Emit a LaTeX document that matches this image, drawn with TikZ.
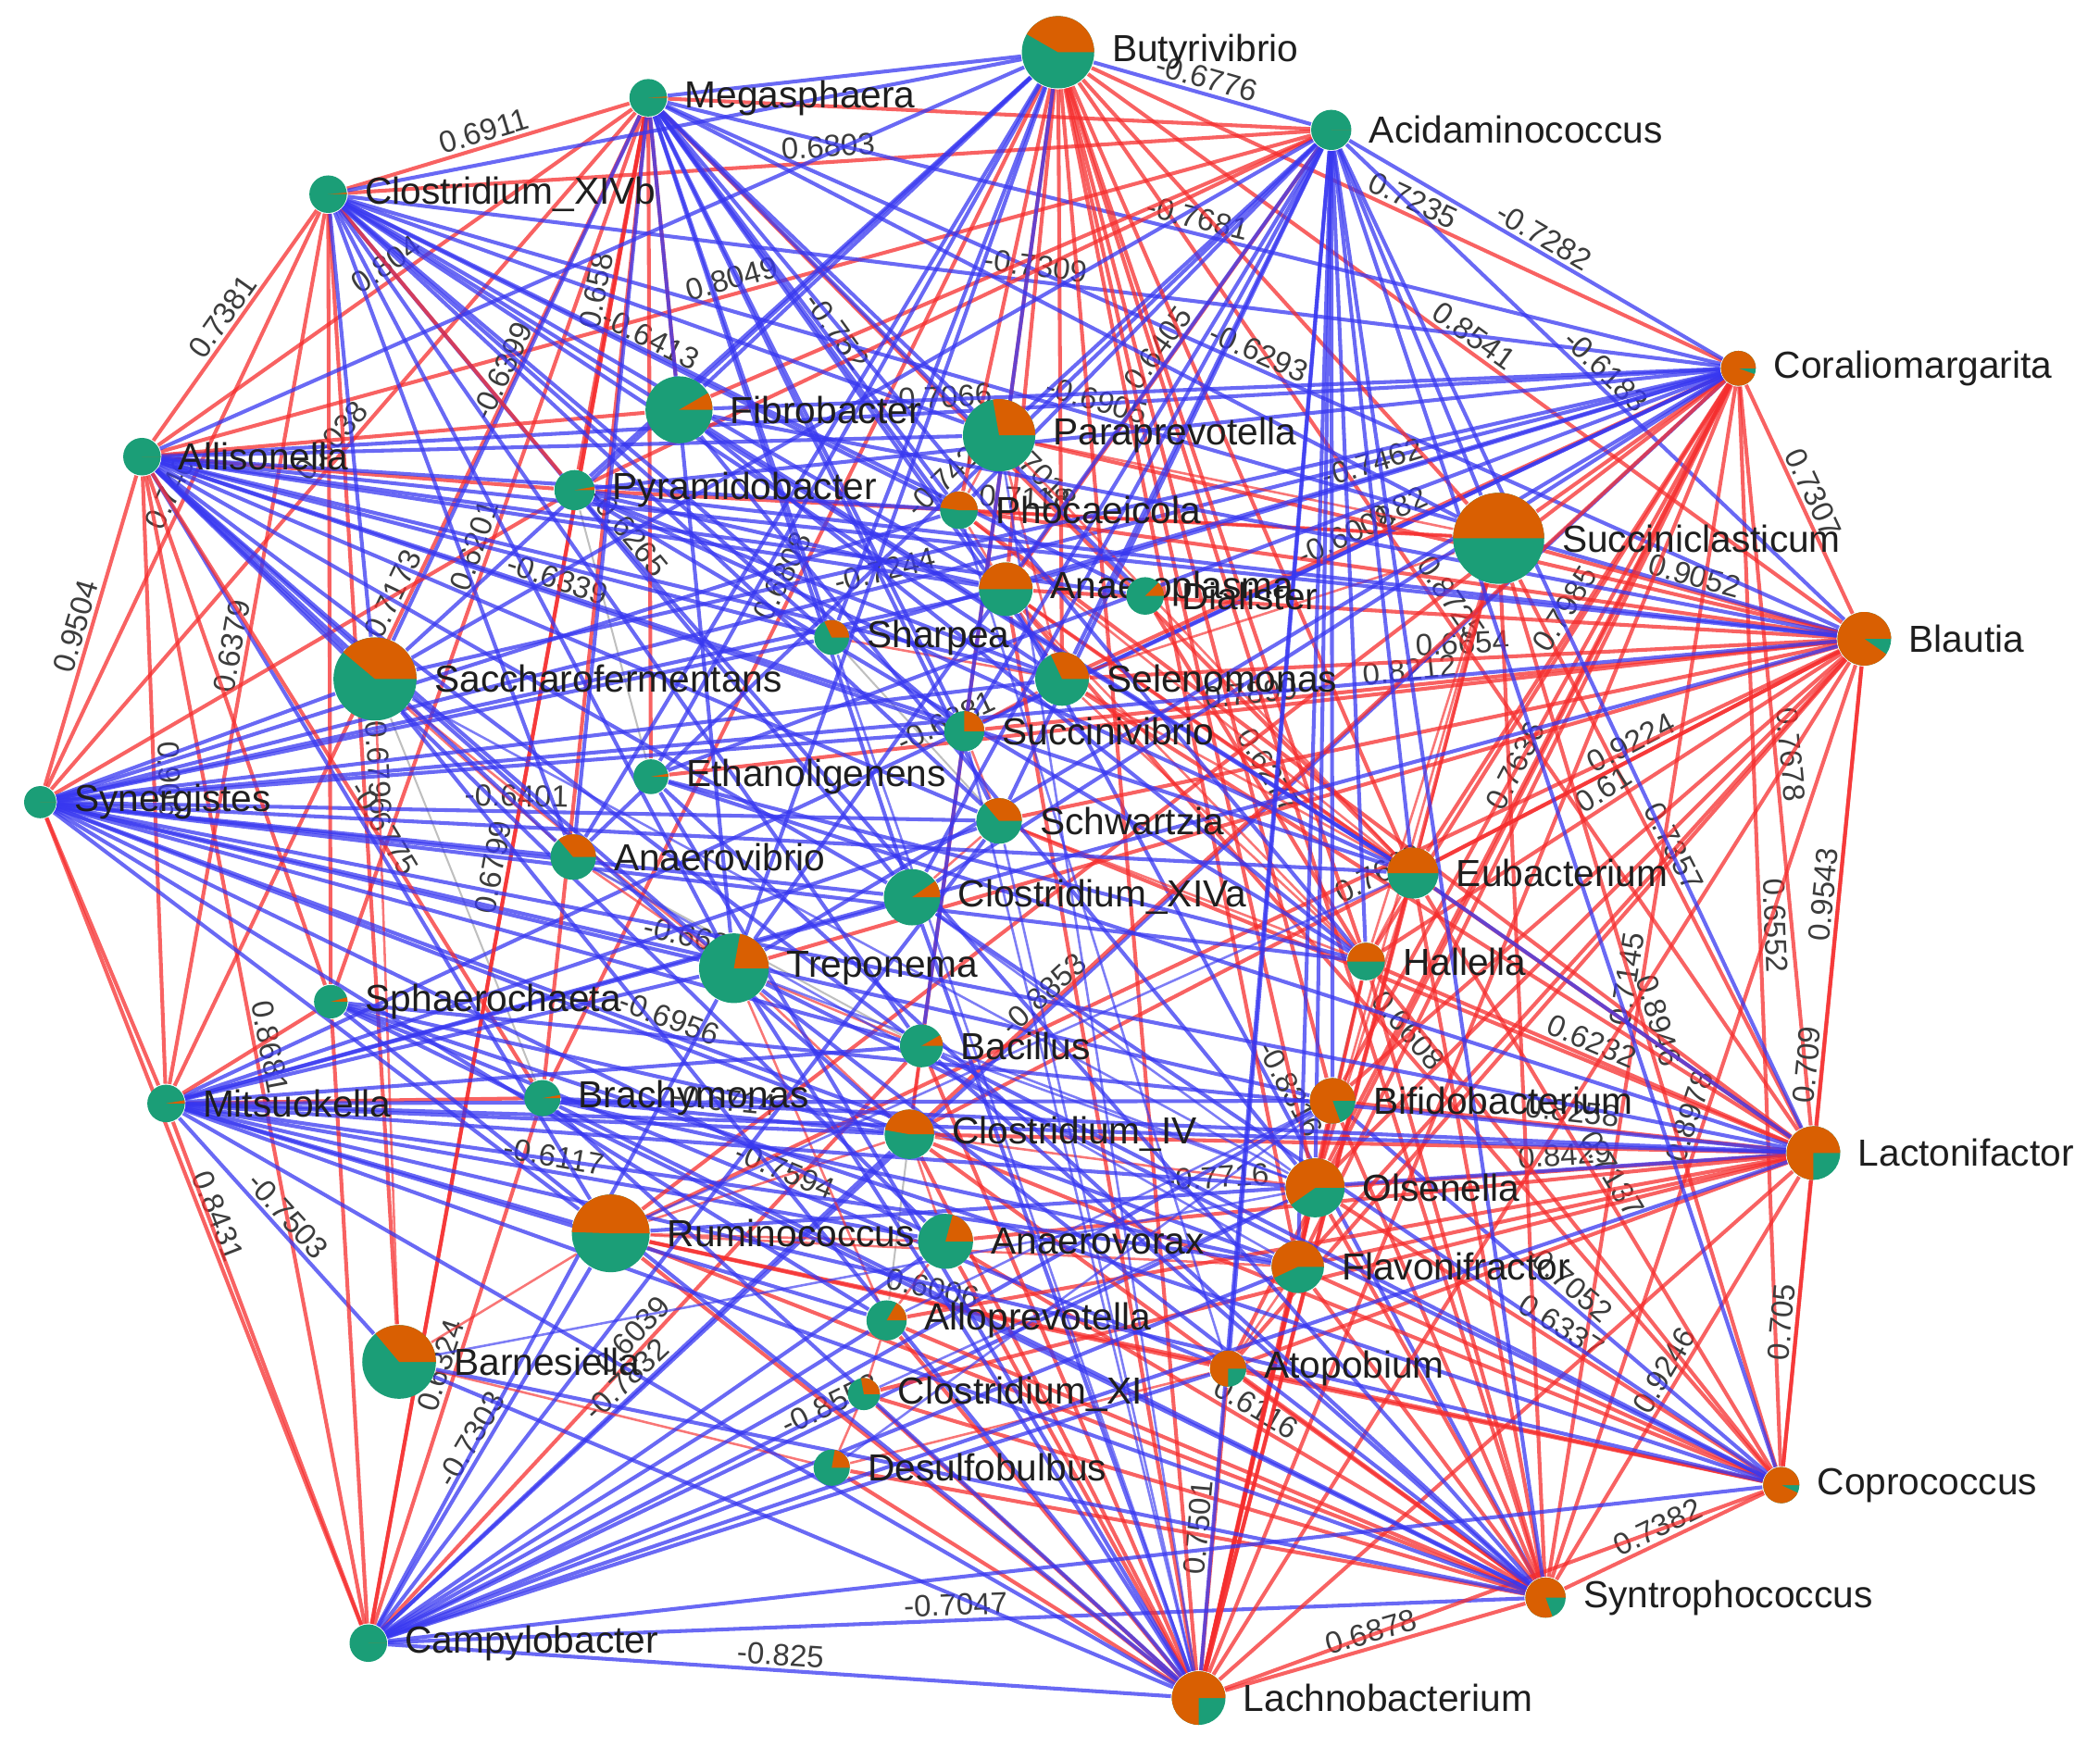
\documentclass[tikz,border=0pt]{standalone}
\usepackage{fontspec}
\setmainfont{Liberation Sans}
\pgfdeclarelayer{links}
\pgfsetlayers{links,main}
\definecolor{greenshare}{HTML}{1B9E77}
\definecolor{orangeshare}{HTML}{D95F02}
\definecolor{poscol}{RGB}{245,45,45}
\definecolor{negcol}{RGB}{55,55,240}
\definecolor{labgray}{HTML}{3C3C3C}
\definecolor{namecol}{HTML}{1E1E1E}

% one taxon: name, position, radius (mm), orange angle, label
\newcommand{\taxon}[5]{%
    \node[taxon, minimum size={2*#3mm}, label={[taxlabel]right:#5}] (#1) at (#2) {};
    \fill[orangeshare] (#1.center) -- ++(0:#3mm) arc[start angle=0, delta angle=#4, radius=#3mm] -- cycle;
}

\begin{document}
\begin{tikzpicture}[
        x=0.01cm, y=-0.01cm,
        % Styles
        taxon/.style={% For the pie nodes
            circle,
            fill=greenshare,
            inner sep=0pt,
            },
        taxlabel/.style={% For the taxon names
            font=\fontsize{8}{9}\selectfont,
            text=namecol,
            inner sep=0pt,
            label distance=1.2mm,
            },
        poslink/.style={% Positive correlation
            draw=poscol, draw opacity=0.75,
            line width=0.8pt,
            },
        poslinkthin/.style={% Positive, weaker
            draw=poscol, draw opacity=0.65,
            line width=0.5pt,
            },
        neglink/.style={% Negative correlation
            draw=negcol, draw opacity=0.75,
            line width=0.8pt,
            },
        neglinkthin/.style={% Negative, weaker
            draw=negcol, draw opacity=0.65,
            line width=0.5pt,
            },
        weaklink/.style={% Faint links
            draw=black!25,
            line width=0.4pt,
            },
        corr/.style={% Correlation values
            sloped, above,
            font=\fontsize{6.5}{7}\selectfont,
            text=labgray,
            inner sep=0.6pt,
            },
        ]

    \useasboundingbox (0,0) rectangle (1568,1314);

    % Nodes
        % Outer ring
        \taxon{but}{790,39}{2.7}{150}{Butyrivibrio}
        \taxon{meg}{484,73}{1.4}{4}{Megasphaera}
        \taxon{aci}{994,97}{1.5}{0}{Acidaminococcus}
        \taxon{cxivb}{245,145}{1.4}{5}{Clostridium\_XIVb}
        \taxon{cor}{1298,275}{1.3}{340}{Coraliomargarita}
        \taxon{all}{106,341}{1.4}{0}{Allisonella}
        \taxon{bla}{1392,477}{2.0}{325}{Blautia}
        \taxon{syn}{30,599}{1.2}{0}{Synergistes}
        \taxon{mit}{124,824}{1.4}{10}{Mitsuokella}
        \taxon{lac}{1354,861}{2.0}{270}{Lactonifactor}
        \taxon{cop}{1330,1109}{1.35}{335}{Coprococcus}
        \taxon{syt}{1154,1193}{1.5}{290}{Syntrophococcus}
        \taxon{cam}{275,1227}{1.4}{0}{Campylobacter}
        \taxon{lab}{895,1268}{2.0}{270}{Lachnobacterium}

        % Inner nodes
        \taxon{fib}{507,306}{2.5}{30}{Fibrobacter}
        \taxon{par}{746,325}{2.7}{100}{Paraprevotella}
        \taxon{pyr}{429,366}{1.5}{10}{Pyramidobacter}
        \taxon{pho}{716,381}{1.4}{172}{Phocaeicola}
        \taxon{suc}{1119,402}{3.4}{180}{Succiniclasticum}
        \taxon{ana}{751,440}{2.0}{180}{Anaeroplasma}
        \taxon{dia}{855,445}{1.4}{45}{Dialister}
        \taxon{sha}{621,476}{1.3}{115}{Sharpea}
        \taxon{sac}{280,507}{3.1}{140}{Saccharofermentans}
        \taxon{sel}{793,507}{2.0}{115}{Selenomonas}
        \taxon{svi}{720,546}{1.5}{90}{Succinivibrio}
        \taxon{eth}{486,580}{1.3}{10}{Ethanoligenens}
        \taxon{sch}{746,613}{1.7}{130}{Schwartzia}
        \taxon{avi}{428,640}{1.7}{130}{Anaerovibrio}
        \taxon{eub}{1055,652}{1.9}{180}{Eubacterium}
        \taxon{cxiva}{681,670}{2.1}{35}{Clostridium\_XIVa}
        \taxon{tre}{548,723}{2.6}{80}{Treponema}
        \taxon{hal}{1020,718}{1.4}{180}{Hallella}
        \taxon{sph}{247,748}{1.25}{15}{Sphaerochaeta}
        \taxon{bac}{688,781}{1.6}{30}{Bacillus}
        \taxon{bra}{405,820}{1.35}{10}{Brachymonas}
        \taxon{bif}{995,822}{1.7}{290}{Bifidobacterium}
        \taxon{civ}{679,847}{1.85}{170}{Clostridium\_IV}
        \taxon{ols}{982,887}{2.2}{215}{Olsenella}
        \taxon{rum}{456,921}{2.9}{178}{Ruminococcus}
        \taxon{avo}{706,927}{2.05}{75}{Anaerovorax}
        \taxon{fla}{969,946}{1.95}{205}{Flavonifractor}
        \taxon{alp}{662,986}{1.5}{60}{Alloprevotella}
        \taxon{bar}{298,1017}{2.75}{130}{Barnesiella}
        \taxon{ato}{917,1022}{1.35}{270}{Atopobium}
        \taxon{cxi}{645,1041}{1.2}{100}{Clostridium\_XI}
        \taxon{des}{621,1096}{1.35}{80}{Desulfobulbus}

    % Links, drawn below the pies
    \begin{pgfonlayer}{links}
        % Weak links
        \foreach \a/\b in {sac/bra, pyr/eth, hal/bif, sha/sch, civ/alp, avi/bac}
            \draw [weaklink] (\a) -- (\b);

        % Positive links with values
        \foreach \a/\b/\v in {cxivb/meg/0.6911, cxivb/aci/0.6803, cxivb/all/0.7381, syn/all/0.9504,
                meg/all/0.804, meg/pyr/0.658, all/aci/0.8049, but/cor/0.7235, but/bla/0.8541,
                meg/syn/0.8038, cxivb/syn/0.740, cxivb/mit/0.6379, meg/sph/0.6201, meg/mit/0.7173,
                cor/bla/0.7307, suc/bla/0.9052, cor/lac/0.7678, bla/lac/0.9543, cor/cop/0.6552,
                bla/cop/0.709, suc/lac/0.7357, bla/eub/0.9224, bla/hal/0.61, svi/bla/0.8212,
                sel/bla/0.6654, cor/eub/0.7985, but/lac/0.8725, lac/cop/0.705, syt/lac/0.9246,
                bla/syt/0.8978, syt/cor/0.7145, suc/cop/0.8946, hal/lac/0.6232, ols/cor/0.7636,
                bif/lac/0.8258, ols/lac/0.8429, eub/cop/0.7137, ols/cop/0.6337, syt/cop/0.7382,
                lab/syt/0.6878, avo/syt/0.6116, rum/ato/0.6006, cam/bra/0.6324, cam/bac/0.6039,
                cam/meg/0.6799, bar/cxivb/0.6796, all/cam/0.8681, syn/cam/0.8431, all/mit/0.906,
                bra/but/0.6808, civ/bla/0.7669, dia/hal/0.6277, ana/cop/0.6608, eth/bla/0.7899,
                pyr/suc/0.7118, cor/sel/0.82, ato/lab/0.7501, aci/ana/0.6405, meg/eub/0.7018}
            \draw [poslink] (\a) -- node[corr] {\v} (\b);

        % Negative links with values
        \foreach \a/\b/\v in {but/aci/-0.6776, meg/cor/-0.7681, cxivb/cor/-0.7309, aci/cor/-0.7282,
                aci/bla/-0.6183, meg/bla/-0.6293, cxivb/bla/-0.6905, all/cor/-0.7066, meg/ana/-0.752,
                cxivb/pho/-0.6413, meg/sac/-0.6399, cxivb/cxiva/-0.6265, all/svi/-0.6339,
                syn/cor/-0.7244, avi/aci/-0.742, mit/cor/-0.6881, svi/cor/-0.6008, ana/cor/-0.7462,
                cam/syt/-0.7047, cam/lab/-0.825, cam/rum/-0.7303, cam/civ/-0.7832, cam/ols/-0.8553,
                cam/cor/-0.8853, mit/bar/-0.7503, bra/civ/-0.6714, mit/avo/-0.6117, syn/fla/-0.6956,
                syn/bif/-0.668, syn/sch/-0.6401, all/rum/-0.6775, sph/ato/-0.7594, rum/lac/-0.7716,
                ana/syt/-0.8316, bif/cop/-0.7052}
            \draw [neglink] (\a) -- node[corr] {\v} (\b);

        % Positive links, outer fans
        \foreach \a/\b in {syn/mit, syn/pyr, all/fib, all/pyr, all/bra, all/sph, cxivb/sph, cxivb/pyr,
                meg/cam, meg/fib, meg/eth, meg/bra, aci/pyr, aci/fib, aci/meg, mit/cam, mit/sph,
                mit/bra, cam/sph,
                but/suc, but/eub, but/hal, but/ols, but/bif, but/fla, but/syt, but/pho, but/ana,
                but/sel, but/civ, but/lab,
                cor/suc, cor/hal, cor/bif, cor/fla, cor/lab, cor/ato, cor/civ, cor/rum,
                bla/ols, bla/bif, bla/fla, bla/ato, bla/lab, bla/rum, bla/ana, bla/pho, bla/sch,
                bla/par, bla/tre,
                lac/fla, lac/ato, lac/lab, lac/civ, lac/ana, lac/pho, lac/sel, lac/sch, lac/avo,
                lac/alp, lac/cxi,
                cop/hal, cop/fla, cop/ato, cop/lab, cop/civ, cop/rum,
                syt/ols, syt/fla, syt/bif, syt/hal, syt/eub, syt/suc, syt/civ, syt/rum, syt/ato,
                syt/alp, syt/des, syt/cxi,
                lab/ols, lab/fla, lab/bif, lab/hal, lab/eub, lab/suc, lab/ana, lab/civ, lab/rum,
                lab/alp, lab/des, lab/cxi, lab/avo, lab/bac}
            \draw [poslink] (\a) -- (\b);

        % Positive links, centre
        \foreach \a/\b in {par/pho, pho/ana, ana/sel, sel/svi, sch/cxiva, tre/bac, civ/avo, avo/alp,
                alp/cxi, cxi/des, rum/civ, rum/avo, tre/civ, sha/sel, sac/avi, par/sel, pho/suc,
                ana/eub, sel/eub, svi/sch, eub/hal, hal/ols, bif/ols, ols/fla, fla/ato, sac/tre,
                avi/tre, sch/hal, eub/ols, par/eub, rum/bar, bar/des, sac/bar, tre/alp, bac/civ,
                ana/hal, sel/hal, pho/eub, suc/eub, suc/hal, suc/ols, suc/sel, par/suc, rum/fla,
                civ/ols, des/ato}
            \draw [poslinkthin] (\a) -- (\b);

        % Negative links, outer fans
        \foreach \a/\b in {syn/sac, syn/pho, syn/ana, syn/sha, syn/svi, syn/sel, syn/cxiva, syn/tre,
                syn/bac, syn/civ, syn/eub, syn/hal, syn/lac, syn/bla, syn/avo, syn/rum,
                syn/alp, syn/avi,
                all/par, all/pho, all/sha, all/ana, all/sel, all/sch, all/cxiva, all/tre, all/bac,
                all/civ, all/eub, all/bla, all/avo, all/avi, all/sac,
                all/dia, all/but,
                cxivb/par, cxivb/ana, cxivb/sel, cxivb/sha, cxivb/sch, cxivb/tre, cxivb/bac,
                cxivb/svi, cxivb/eub, cxivb/dia, cxivb/avi, cxivb/but,
                cxivb/sac,
                meg/but, meg/par, meg/pho, meg/sel, meg/svi, meg/sch, meg/dia, meg/suc, meg/hal,
                meg/sha, meg/cxiva, meg/tre, meg/avi,
                aci/eub, aci/hal, aci/ols, aci/bif, aci/lac, aci/fla, aci/ato, aci/lab, aci/syt,
                aci/cop, aci/suc, aci/sel, aci/svi, aci/sch, aci/cxiva, aci/tre, aci/par, aci/pho,
                aci/sac,
                but/pyr, but/sac, but/sha, but/tre, but/bac, but/avi, but/fib, but/eth,
                cor/pyr, cor/fib, cor/sac, cor/sha, cor/eth, cor/cxiva, cor/tre,
                bla/pyr, bla/fib, bla/mit,
                lac/mit, lac/cam, lac/eub, lac/bra, lac/sph, lac/eth,
                cop/mit, cop/bac, cop/cxiva, cop/tre, cop/sph,
                syt/mit, syt/sph, syt/bra, syt/eth, syt/pyr, syt/bar, syt/tre, syt/bac,
                lab/mit, lab/sph, lab/bra, lab/tre, lab/cxiva, lab/bar, lab/sac, lab/eth,
                cam/fla, cam/bif, cam/ato, cam/avo, cam/alp, cam/des, cam/cxi, cam/tre, cam/sch,
                cam/cop,
                mit/rum, mit/civ, mit/bac, mit/tre, mit/alp, mit/ols, mit/fla, mit/bif, mit/cxiva,
                mit/sch,
                pyr/eub, pyr/hal, pyr/sel, pyr/ana,
                fib/ols, fib/eub, fib/hal,
                eth/hal, sph/civ, bra/fla}
            \draw [neglink] (\a) -- (\b);

        % Negative links, centre
        \foreach \a/\b in {sha/lab, tre/ols, bac/ols, cxiva/ols, sch/lab, svi/lab, sac/ols, avi/fla,
                bar/ols, rum/eub, des/bif, alp/bif, cxi/ols, par/lab, pho/ato}
            \draw [neglinkthin] (\a) -- (\b);
    \end{pgfonlayer}

\end{tikzpicture}
\end{document}
